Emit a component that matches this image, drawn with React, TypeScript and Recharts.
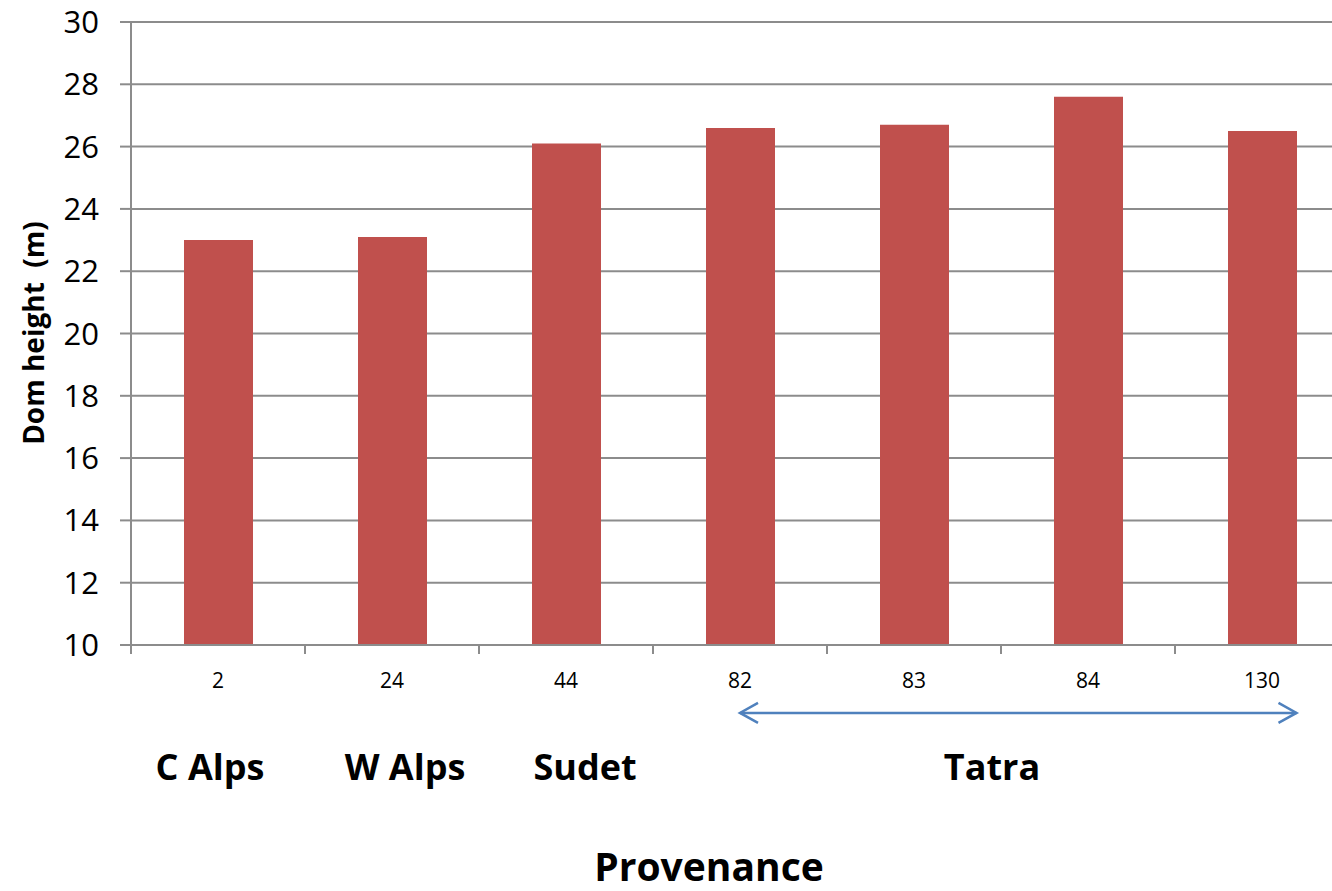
import { BarChart, Bar, XAxis, YAxis, CartesianGrid, ReferenceLine } from "recharts";

// Dominant height by provenance number
const provenances = ["2", "24", "44", "82", "83", "84", "130"];
const domHeight = [23.0, 23.1, 26.1, 26.6, 26.7, 27.6, 26.5];
const yTicks = [10, 12, 14, 16, 18, 20, 22, 24, 26, 28, 30];

const regionNames = ["C Alps", "W Alps", "Sudet", "Tatra"];
const regionX = [210, 405, 585, 992];

// Tatra span on the provenance axis, drawn just below the axis
const tatraFrom = "82";
const tatraTo = "130";
const arrowLevel = 7.82;

const data = provenances.map((p, i) => ({ provenance: p, height: domHeight[i] }));

const FONT = "'Open Sans', 'Liberation Sans', sans-serif";
const GRID = "#8c8c8c";
const BAR = "#c0504d";
const ARROW = "#4f81bd";
const BAR_SIZE = 69;

// Category label plus a tick mark on the left edge of each band (and the right edge of the last)
function ProvenanceTick(props: any) {
  const { x, y, payload, index } = props;
  const half = payload && payload.offset ? payload.offset : 87;
  return (
    <g>
      <line x1={x - half} y1={y} x2={x - half} y2={y + 9} stroke={GRID} strokeWidth={2} />
      {index === provenances.length - 1 && (
        <line x1={x + half} y1={y} x2={x + half} y2={y + 9} stroke={GRID} strokeWidth={2} />
      )}
      <text x={x} y={y + 43} textAnchor="middle" fill="#000" fontSize={21} fontFamily={FONT}>
        {payload.value}
      </text>
    </g>
  );
}

function ArrowShape(props: any) {
  const { x1, y1, y2 } = props;
  const x2 = props.x2 + BAR_SIZE / 2;
  const head = 18;
  const half = 10;
  return (
    <g stroke={ARROW} strokeWidth={2.5} fill="none">
      <line x1={x1} y1={y1} x2={x2} y2={y2} />
      <polyline points={`${x1 + head},${y1 - half} ${x1},${y1} ${x1 + head},${y1 + half}`} />
      <polyline points={`${x2 - head},${y2 - half} ${x2},${y2} ${x2 - head},${y2 + half}`} />
    </g>
  );
}

export default function App() {
  return (
    <div
      style={{
        position: "fixed",
        left: 0,
        top: 0,
        width: 1332,
        height: 891,
        overflow: "hidden",
        background: "#fff",
        fontFamily: FONT,
      }}
    >
      <BarChart
        width={1360}
        height={891}
        data={data}
        margin={{ top: 22, right: 11, left: 0, bottom: 0 }}
        barSize={BAR_SIZE}
      >
        <CartesianGrid vertical={false} stroke={GRID} strokeWidth={2} />
        <XAxis
          dataKey="provenance"
          axisLine={{ stroke: GRID, strokeWidth: 2 }}
          tickLine={false}
          tickSize={0}
          tickMargin={0}
          height={246}
          interval={0}
          tick={<ProvenanceTick />}
        />
        <YAxis
          domain={[10, 30]}
          ticks={yTicks}
          allowDataOverflow
          width={131}
          tickSize={11}
          tickMargin={21}
          tickLine={{ stroke: GRID, strokeWidth: 2 }}
          axisLine={{ stroke: GRID, strokeWidth: 2 }}
          tick={{ fill: "#000", fontSize: 31, fontFamily: FONT }}
        />
        <Bar dataKey="height" fill={BAR} isAnimationActive={false} />
        <ReferenceLine
          segment={[
            { x: tatraFrom, y: arrowLevel },
            { x: tatraTo, y: arrowLevel },
          ]}
          ifOverflow="visible"
          shape={ArrowShape}
        />
      </BarChart>
      <svg
        width={1332}
        height={891}
        style={{ position: "absolute", left: 0, top: 0, pointerEvents: "none" }}
      >
        <text
          transform="translate(44,333) rotate(-90)"
          textAnchor="middle"
          fontFamily={FONT}
          fontWeight="bold"
          fontSize={28}
          fill="#000"
        >
          Dom height{"\u00a0\u00a0"}(m)
        </text>
        {regionNames.map((name, i) => (
          <text
            key={name}
            x={regionX[i]}
            y={780}
            textAnchor="middle"
            fontFamily={FONT}
            fontWeight="bold"
            fontSize={36}
            fill="#000"
          >
            {name}
          </text>
        ))}
        <text
          x={709}
          y={881}
          textAnchor="middle"
          fontFamily={FONT}
          fontWeight="bold"
          fontSize={39}
          fill="#000"
        >
          Provenance
        </text>
      </svg>
    </div>
  );
}
